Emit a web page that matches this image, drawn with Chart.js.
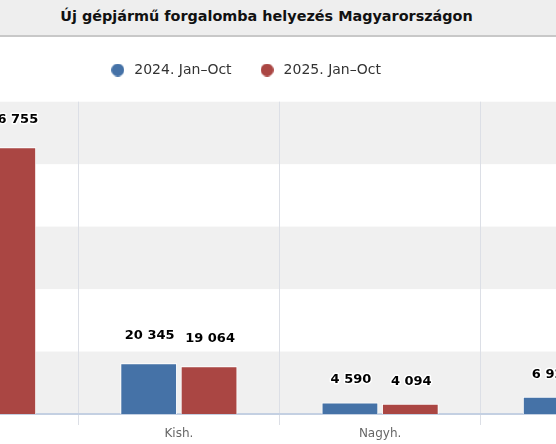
<!DOCTYPE html>
<html>
<head>
<meta charset="utf-8">
<script src="https://cdn.jsdelivr.net/npm/chart.js@4.4.1/dist/chart.umd.min.js"></script>
<style>
html,body{margin:0;padding:0;width:556px;height:444px;overflow:hidden;background:#fff;}
#hdr{position:absolute;left:0;top:0;width:533px;padding-right:23px;height:35px;background:#eeeeee;border-bottom:2px solid #c8c8c8;font-family:"DejaVu Sans";font-weight:bold;font-size:14.4px;line-height:32px;text-align:center;color:#111;z-index:2;white-space:nowrap;}
#wrap{position:absolute;left:-200px;top:0;width:882px;height:444px;}
</style>
</head>
<body>
<div id="hdr">Új gépjármű forgalomba helyezés Magyarországon</div>
<div id="wrap"><canvas id="c" width="882" height="444" style="width:882px;height:444px"></canvas></div>
<script>
const categories = ['Szgk.', 'Kish.', 'Nagyh.', 'Motor'];
const seriesNames = ['2024. Jan–Oct', '2025. Jan–Oct'];
const values2024 = [101500, 20345, 4590, 6920];
const values2025 = [106755, 19064, 4094, 7480];
const yTickValues = [0, 25000, 50000, 75000, 100000, 125000];
const seriesColors = ['#4572A7', '#AA4643'];

const fmt = v => String(v).replace(/\B(?=(\d{3})+(?!\d))/g, ' ');

function dot(color) {
  const c = document.createElement('canvas');
  c.width = 13; c.height = 13;
  const x = c.getContext('2d');
  x.fillStyle = color;
  x.beginPath(); x.arc(6.5, 6.5, 6.5, 0, Math.PI * 2); x.fill();
  return c;
}
const dots = seriesColors.map(dot);

const bandsPlugin = {
  id: 'bands',
  beforeDraw(chart) {
    const {ctx, chartArea: a, scales: {y}} = chart;
    ctx.save();
    ctx.fillStyle = '#f0f0f0';
    for (let i = 0; i + 1 < yTickValues.length; i += 2) {
      const y0 = y.getPixelForValue(yTickValues[i]);
      const y1 = y.getPixelForValue(yTickValues[i + 1]);
      ctx.fillRect(a.left, y1, a.right - a.left, y0 - y1);
    }
    ctx.restore();
  }
};

const labelsPlugin = {
  id: 'valueLabels',
  afterDatasetsDraw(chart) {
    const ctx = chart.ctx;
    ctx.save();
    ctx.font = 'bold 13px "DejaVu Sans"';
    ctx.textAlign = 'center';
    ctx.textBaseline = 'middle';
    ctx.lineJoin = 'round';
    chart.data.datasets.forEach((ds, di) => {
      const meta = chart.getDatasetMeta(di);
      meta.data.forEach((bar, i) => {
        const v = ds.data[i];
        const txt = fmt(v);
        const off = v >= 10000 ? 28.5 : 23.4;
        const ty = bar.y - off + 0.9;
        ctx.lineWidth = 3;
        ctx.strokeStyle = '#ffffff';
        ctx.strokeText(txt, bar.x + 1, ty);
        ctx.fillStyle = '#000000';
        ctx.fillText(txt, bar.x + 1, ty);
      });
    });
    ctx.restore();
  }
};

new Chart(document.getElementById('c'), {
  type: 'bar',
  data: {
    labels: categories,
    datasets: [
      {label: seriesNames[0], data: values2024, backgroundColor: seriesColors[0], borderColor: '#ffffff', borderWidth: 1, categoryPercentage: 0.6, barPercentage: 0.94},
      {label: seriesNames[1], data: values2025, backgroundColor: seriesColors[1], borderColor: '#ffffff', borderWidth: 1, categoryPercentage: 0.6, barPercentage: 0.94}
    ]
  },
  options: {
    responsive: false,
    animation: false,
    events: [],
    layout: {padding: {left: 7.2, top: 37, right: 0, bottom: 0}},
    plugins: {
      title: {display: false},
      tooltip: {enabled: false},
      legend: {
        display: true,
        position: 'top',
        align: 'center',
        labels: {
          usePointStyle: true,
          boxWidth: 14,
          boxHeight: 14,
          pointStyleWidth: 19,
          padding: 26,
          color: '#333333',
          font: {family: 'DejaVu Sans', size: 14},
          generateLabels(chart) {
            const items = Chart.defaults.plugins.legend.labels.generateLabels(chart);
            items.forEach((it, i) => { it.pointStyle = dots[i]; });
            return items;
          }
        }
      }
    },
    scales: {
      x: {
        type: 'category',
        position: 'bottom',
        offset: true,
        grid: {display: true, offset: true, color: '#dcdfe6', lineWidth: 1, drawTicks: true, tickLength: 11},
        border: {display: true, color: '#c4d0e2', width: 2},
        ticks: {color: '#666666', font: {family: 'DejaVu Sans', size: 12}, padding: 2, maxRotation: 0, autoSkip: false},
        afterFit(s) { s.height = 30; }
      },
      xTop: {
        type: 'category',
        position: 'top',
        display: true,
        grid: {display: false, drawTicks: false},
        border: {display: false},
        ticks: {display: false},
        afterFit(s) { s.height = 14.7; }
      },
      y: {
        min: 0,
        max: 125000,
        ticks: {stepSize: 25000, callback: v => fmt(v), color: '#666666', font: {family: 'DejaVu Sans', size: 11}},
        grid: {display: false},
        border: {display: false},
        afterFit(s) { s.width = 69.8; }
      }
    }
  },
  plugins: [bandsPlugin, labelsPlugin]
});
</script>
</body>
</html>
